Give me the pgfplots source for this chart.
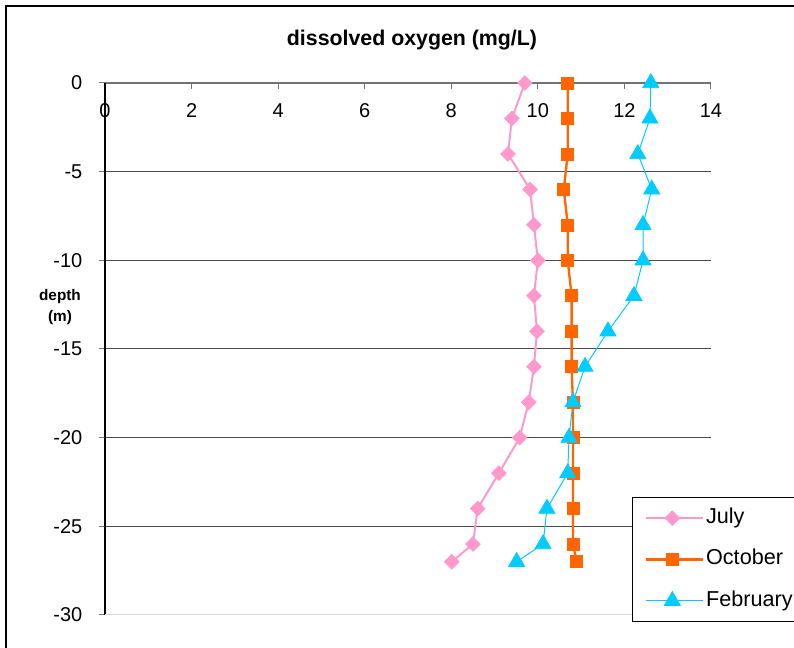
\documentclass[border=0pt]{standalone}
\usepackage{fontspec}
\setmainfont{Liberation Sans}
\usepackage{pgfplots}
\pgfplotsset{compat=1.18}
\definecolor{julypink}{HTML}{FF99CC}
\definecolor{octorange}{HTML}{FF6600}
\definecolor{febcyan}{HTML}{00CCFF}

\begin{document}
\begin{tikzpicture}
% page = 794x648 px at 0.75pt/px, origin at the lower left corner of the axis box
\useasboundingbox (-78.75pt,-24.75pt) rectangle (516.75pt,461.25pt);
\draw[black, line width=1.1pt] (-74.25pt,-60pt) -- (-74.25pt,456.75pt) -- (560pt,456.75pt);
\begin{axis}[
  at={(0pt,0pt)}, anchor=south west,
  scale only axis, width=454.5pt, height=399pt,
  xmin=0, xmax=14, ymin=-30, ymax=0,
  axis x line*=top, axis y line*=left,
  x axis line style={black!55, line width=0.9pt},
  y axis line style={black, line width=0.8pt},
  xtick={0,2,...,14}, ytick={-30,-25,...,0},
  xtick align=inside, ytick align=outside,
  major tick length=4.5pt,
  tick style={black!55, line width=0.75pt},
  ymajorgrids, grid style={black!70, line width=0.75pt},
  tick label style={font=\fontsize{15}{18}\selectfont},
  /pgf/number format/assume math mode=true,
  x tick label style={anchor=north, yshift=-12pt},
  y tick label style={xshift=-9pt},
  clip=false,
  legend style={at={(0.8696,0.2218)}, anchor=north west, draw=black, line width=0.75pt,
    font=\fontsize{16.2}{18}\selectfont, inner xsep=9pt, inner ysep=7pt, row sep=14pt,
    nodes={inner sep=1.5pt, text height=11pt, text depth=3pt}},
  legend cell align=left,
  legend image code/.code={\path (0pt,0pt) -- (43pt,0pt);
    \draw[mark repeat=2,mark phase=2,#1] plot coordinates {(0pt,0pt) (20pt,0pt) (40pt,0pt)};},
]
% the -30 grid line is light grey in the reference
\draw[white, line width=1pt] (axis cs:0.02,-30) -- (axis cs:14,-30);
\draw[black!15, line width=0.75pt] (axis cs:0,-30) -- (axis cs:14,-30);
\addplot[julypink, line width=1.5pt, mark=square*, mark size=3.9pt,
  mark options={rotate=45, line width=0.5pt}] coordinates {
  (9.70,0) (9.40,-2) (9.31,-4) (9.82,-6) (9.91,-8) (10.00,-10) (9.91,-12)
  (9.98,-14) (9.91,-16) (9.79,-18) (9.58,-20) (9.10,-22) (8.61,-24) (8.50,-26) (8.01,-27)};
\addlegendentry{July}
\addplot[octorange, line width=1.75pt, mark=square*, mark size=4.5pt,
  mark options={line width=0.5pt}] coordinates {
  (10.69,0) (10.69,-2) (10.69,-4) (10.60,-6) (10.69,-8) (10.69,-10) (10.78,-12)
  (10.78,-14) (10.78,-16) (10.81,-18) (10.81,-20) (10.81,-22) (10.81,-24) (10.81,-26) (10.90,-27)};
\addlegendentry{October}
\addplot[febcyan, line width=0.75pt, mark=triangle*, mark size=7pt,
  mark options={line width=0.5pt}] coordinates {
  (12.61,0) (12.59,-2) (12.31,-4) (12.63,-6) (12.43,-8) (12.43,-10) (12.22,-12)
  (11.62,-14) (11.09,-16) (10.81,-18) (10.72,-20) (10.69,-22) (10.21,-24) (10.12,-26) (9.51,-27)};
\addlegendentry{February}
\node[font=\bfseries\fontsize{16}{18}\selectfont] at (rel axis cs:0.5,0) [xshift=3pt, yshift=431.25pt] {dissolved oxygen (mg/L)};
\node[font=\bfseries\fontsize{11.5}{15.75}\selectfont, align=center] at (rel axis cs:0,0) [xshift=-33.75pt, yshift=231pt] {depth\\(m)};
\end{axis}
\end{tikzpicture}
\end{document}
